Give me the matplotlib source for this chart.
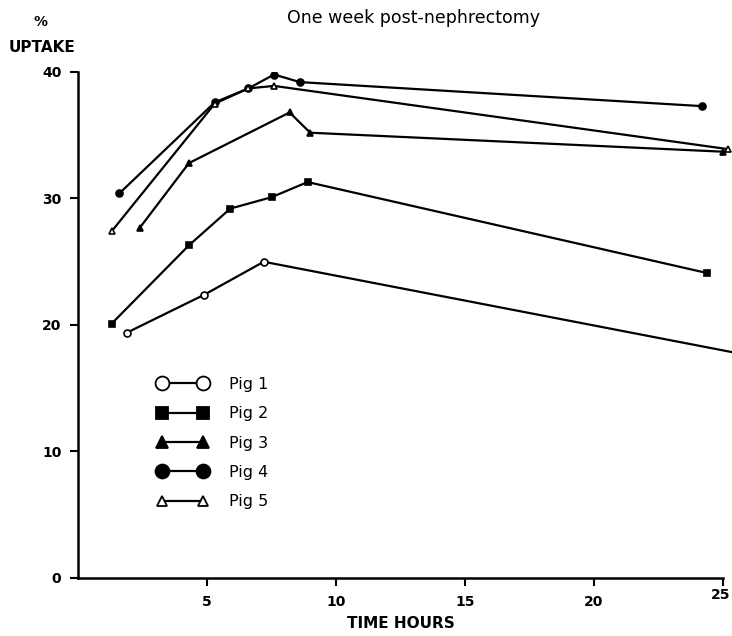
import matplotlib
matplotlib.use("Agg")
import matplotlib.pyplot as plt
from matplotlib.lines import Line2D
from matplotlib.transforms import ScaledTranslation

# uptake (%) over time (hours) after nephrectomy, one series per animal
pig1_t = [1.9, 4.9, 7.2, 26.0]
pig1_u = [19.4, 22.4, 25.0, 17.6]

pig2_t = [1.3, 4.3, 5.9, 7.5, 8.9, 24.4]
pig2_u = [20.1, 26.3, 29.2, 30.1, 31.3, 24.1]

pig3_t = [2.4, 4.3, 8.2, 9.0, 25.0]
pig3_u = [27.7, 32.8, 36.8, 35.2, 33.7]

pig4_t = [1.6, 5.3, 6.6, 7.6, 8.6, 24.2]
pig4_u = [30.4, 37.6, 38.7, 39.8, 39.2, 37.3]

pig5_t = [1.3, 5.3, 6.6, 7.6, 25.2]
pig5_u = [27.4, 37.5, 38.7, 38.9, 33.9]

SERIES = [
    ("Pig 1", pig1_t, pig1_u, "o", "white", 5, 10),
    ("Pig 2", pig2_t, pig2_u, "s", "black", 5, 9),
    ("Pig 3", pig3_t, pig3_u, "^", "black", 5, 9),
    ("Pig 4", pig4_t, pig4_u, "o", "black", 5, 10),
    ("Pig 5", pig5_t, pig5_u, "^", "white", 5, 7),
]

fig = plt.figure(figsize=(7.32, 6.36), dpi=100)
ax = fig.add_axes([0.1066, 0.0912, 0.8934, 0.7956])

handles = []
for label, t, u, mk, fc, ms, lms in SERIES:
    ax.plot(t, u, color="black", lw=1.6, marker=mk, markersize=ms,
            markerfacecolor=fc, markeredgecolor="black", markeredgewidth=1.2)
    handles.append(Line2D([0], [0], color="black", lw=1.6, marker=mk,
                          markersize=lms, markerfacecolor=fc,
                          markeredgecolor="black", markeredgewidth=1.3,
                          label=label))

ax.set_xlim(0, 25.35)
ax.set_ylim(0, 40)
ax.set_xticks([5, 10, 15, 20, 25])
ax.set_yticks([0, 10, 20, 30, 40])

for side in ("top", "right"):
    ax.spines[side].set_visible(False)
for side in ("left", "bottom"):
    ax.spines[side].set_linewidth(1.8)
ax.spines["bottom"].set_bounds(0, 25)
ax.tick_params(direction="out", length=6, width=1.5, labelsize=10, pad=6)
for lab in ax.get_xticklabels() + ax.get_yticklabels():
    lab.set_fontweight("bold")

# last x label sits a little higher and inside the edge
last = ax.get_xticklabels()[-1]
last.set_transform(last.get_transform() +
                   ScaledTranslation(-2 / 72, 5 / 72, fig.dpi_scale_trans))

ax.legend(handles=handles, loc="upper left", bbox_to_anchor=(0.195, 0.43),
          bbox_transform=fig.transFigure, frameon=False, fontsize=11.5,
          handlelength=3.2, handletextpad=1.3, labelspacing=0.9,
          numpoints=2)

fig.text(0.565, 0.971, "One week post-nephrectomy", ha="center", va="center",
         fontsize=12.5)
fig.text(0.055, 0.965, "%", ha="center", va="center", fontsize=10,
         fontweight="bold")
fig.text(0.057, 0.925, "UPTAKE", ha="center", va="center", fontsize=11,
         fontweight="bold")
fig.text(0.548, 0.02, "TIME HOURS", ha="center", va="center", fontsize=11,
         fontweight="bold")

fig.savefig("out.png", dpi=100)
